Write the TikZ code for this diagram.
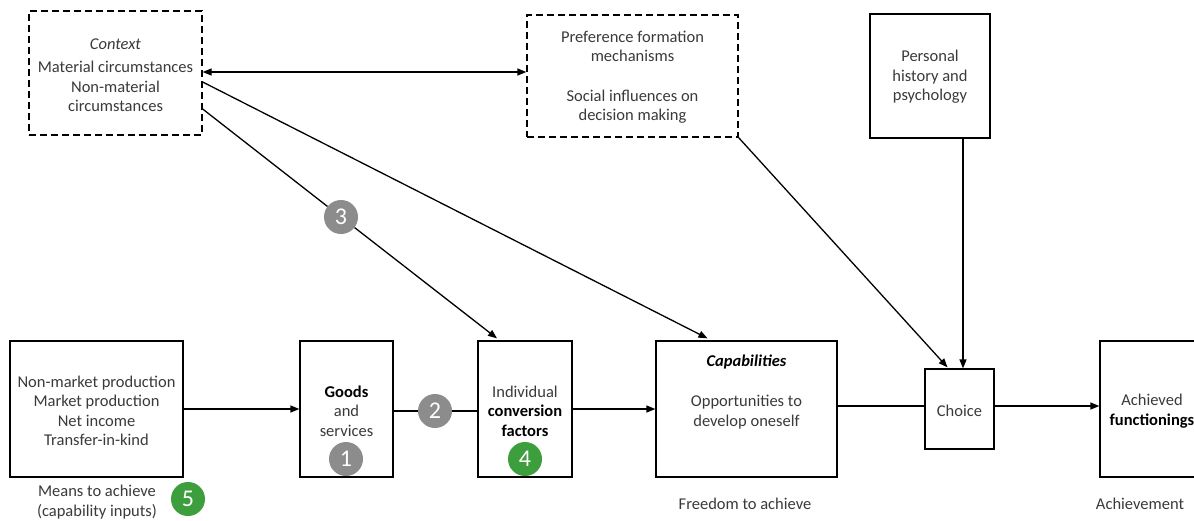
\documentclass[tikz,border=0pt]{standalone}
\usepackage{fontspec}
\setmainfont{Carlito}
\usetikzlibrary{arrows.meta}
\definecolor{txt}{HTML}{3A3A3A}
\definecolor{numgrey}{HTML}{8C8C8C}
\definecolor{numgreen}{HTML}{3C9E3C}
\begin{document}
\begin{tikzpicture}[x=1pt,y=-1pt,
  boxs/.style={draw, line width=1.3pt, inner sep=0pt},
  dashbox/.style={boxs, dash pattern=on 7pt off 4pt},
  txtnode/.style={align=center, text=txt, font=\fontsize{16.5}{19.5}\selectfont, inner sep=0pt},
  numc/.style={circle, fill=#1, text=white, minimum size=34pt, inner sep=0pt, font=\fontsize{24}{24}\selectfont},
  arr/.style={line width=1.3pt, -{Triangle[length=9pt,width=7pt]}},
  darr/.style={line width=1.3pt, {Triangle[length=9pt,width=7pt]}-{Triangle[length=9pt,width=7pt]}},
  ln/.style={line width=1.3pt}
]
\useasboundingbox (0,0) rectangle (1194,520);
\clip (0,0) rectangle (1194,520);
\fill[white] (0,0) rectangle (1194,520);

% boxes
\node[dashbox, minimum width=173pt, minimum height=124pt] (ctx) at (115.5,73) {};
\node[dashbox, minimum width=211pt, minimum height=122pt] (pref) at (632.5,76) {};
\node[boxs, minimum width=120pt, minimum height=124pt] (pers) at (930,76) {};
\node[boxs, minimum width=173pt, minimum height=136pt] (means) at (96.5,409) {};
\node[boxs, minimum width=93pt, minimum height=136pt] (goods) at (346.5,409) {};
\node[boxs, minimum width=94pt, minimum height=136pt] (conv) at (525,409) {};
\node[boxs, minimum width=181pt, minimum height=136pt] (cap) at (746.5,409) {};
\node[boxs, minimum width=69pt, minimum height=80pt] (choice) at (959.5,409) {};
\node[boxs, minimum width=130pt, minimum height=136pt] (ach) at (1165,409) {};

% texts
\node[txtnode] (ctxt) at (115.5,75) {\textit{Context}\\[4pt]Material circumstances\\Non-material\\circumstances};
\node[txtnode] (preft) at (632.5,77) {Preference formation\\mechanisms\\[20pt]Social influences on\\decision making};
\node[txtnode] (perst) at (930,77) {Personal\\history and\\psychology};
\node[txtnode] (meanst) at (96.5,411) {Non-market production\\Market production\\Net income\\Transfer-in-kind};
\node[txtnode] (goodst) at (346.5,411) {\textcolor{black}{\textbf{Goods}}\\and\\services};
\node[txtnode] (convt) at (525,411) {Individual\\\textcolor{black}{\textbf{conversion}}\\\textcolor{black}{\textbf{factors}}};
\node[txtnode, text=black] (captitle) at (746.5,362) {\textbf{\textit{Capabilities}}};
\node[txtnode] (capt) at (746.5,412) {Opportunities to\\develop oneself};
\node[txtnode] (choicet) at (959.5,411) {Choice};
\node[txtnode] (acht) at (1152,411) {Achieved\\\textcolor{black}{\textbf{functionings}}};
\node[txtnode] (meansl) at (97,502) {Means to achieve\\(capability inputs)};
\node[txtnode] (freel) at (745,504) {Freedom to achieve};
\node[txtnode] (achl) at (1140,504) {Achievement};

% numbered circles
\node[numc=numgrey] (n1) at (346,459) {1};
\node[numc=numgrey] (n2) at (435,411) {2};
\node[numc=numgrey] (n3) at (341,217) {3};
\node[numc=numgreen] (n4) at (525,459) {4};
\node[numc=numgreen] (n5) at (188,499) {5};

% connectors
\draw[darr] (ctx.east |- 0,72) -- (pref.west |- 0,72);
\draw[arr] ([yshift=-9pt]ctx.east) -- ([xshift=-39pt,yshift=2pt]cap.north);
\draw[ln] ([yshift=-36pt]ctx.east) -- (n3);
\draw[arr] (n3) -- ([xshift=-28pt,yshift=2pt]conv.north);
\draw[arr] (pref.south east) -- ([xshift=-12pt,yshift=1pt]choice.north);
\draw[arr] ([xshift=33pt]pers.south) -- ([xshift=33pt]pers.south |- choice.north);
\draw[arr] (means.east) -- (goods.west);
\draw[ln] ([yshift=-2pt]goods.east) -- (n2);
\draw[ln] (n2) -- ([yshift=-2pt]conv.west);
\draw[arr] (conv.east) -- (cap.west);
\draw[ln] ([yshift=3pt]cap.east) -- ([yshift=3pt]choice.west);
\draw[arr] ([yshift=3pt]choice.east) -- ([yshift=3pt]ach.west);
\end{tikzpicture}
\end{document}
